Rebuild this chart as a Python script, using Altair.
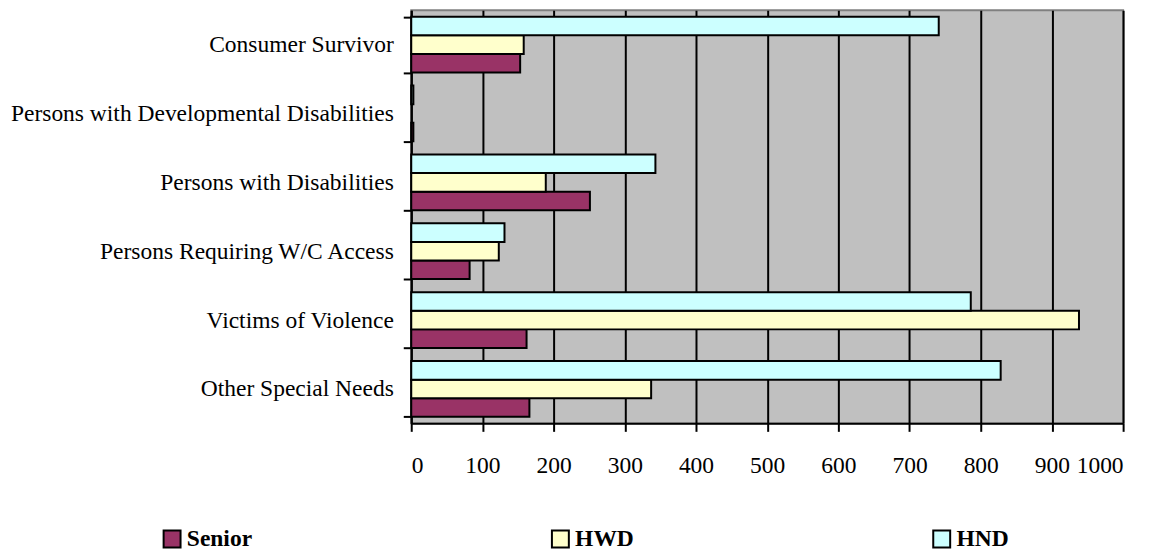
import altair as alt
import pandas as pd

categories = [
    "Consumer Survivor",
    "Persons with Developmental Disabilities",
    "Persons with Disabilities",
    "Persons Requiring W/C Access",
    "Victims of Violence",
    "Other Special Needs",
]
series = ["Senior", "HWD", "HND"]
senior = [153, 3, 251, 82, 162, 166]
hwd = [158, 0, 189, 123, 938, 337]
hnd = [741, 3, 343, 131, 786, 828]
colors = ["#993366", "#FFFFCC", "#CCFFFF"]
x_ticks = [0, 100, 200, 300, 400, 500, 600, 700, 800, 900, 1000]

rows = []
for name, vals in zip(series, [senior, hwd, hnd]):
    for c, v in zip(categories, vals):
        rows.append({"category": c, "series": name, "value": v})
df = pd.DataFrame(rows)

FONT = "Liberation Serif"
FS = 23.6

chart = (
    alt.Chart(df)
    .transform_filter("datum.value > 0")
    .mark_bar(stroke="black", strokeWidth=2)
    .encode(
        y=alt.Y(
            "category:N",
            sort=categories,
            scale=alt.Scale(paddingInner=0.19, paddingOuter=0.095),
            axis=alt.Axis(
                title=None, tickBand="extent", grid=False,
                domainColor="black", domainWidth=2,
                tickColor="black", tickWidth=2, tickSize=8,
                labelFont=FONT, labelFontSize=FS, labelColor="black",
                labelPadding=10, labelLimit=0,
            ),
        ),
        yOffset=alt.YOffset("series:N", sort=["HND", "HWD", "Senior"]),
        x=alt.X(
            "value:Q",
            scale=alt.Scale(domain=[0, 1000], nice=False),
            axis=alt.Axis(
                title=None, values=x_ticks, grid=True, format="d",
                gridColor="black", gridWidth=2, gridOpacity=1,
                domainColor="black", domainWidth=2,
                tickColor="black", tickWidth=2, tickSize=8,
                labelFont=FONT, labelFontSize=FS, labelColor="black",
                labelPadding=22,
            ),
        ),
        color=alt.Color(
            "series:N",
            scale=alt.Scale(domain=series, range=colors),
            legend=alt.Legend(
                title=None, orient="none", direction="horizontal",
                legendX=-252, legendY=519,
                symbolType="square", symbolSize=289,
                symbolStrokeColor="black", symbolStrokeWidth=2,
                symbolOpacity=1,
                labelFont=FONT, labelFontSize=FS, labelFontWeight="bold",
                labelColor="black", labelOffset=3,
                columnPadding=296,
            ),
        ),
    )
    .properties(
        width=715, height=415,
        autosize=alt.AutoSizeParams(type="none"),
        padding={"left": 405, "top": 1, "right": 27, "bottom": 128},
        background="white",
    )
    .configure_view(fill="#C0C0C0", stroke="#808080", strokeWidth=2)
)

chart.save("out.html", embed_options={"renderer": "svg", "actions": False})
